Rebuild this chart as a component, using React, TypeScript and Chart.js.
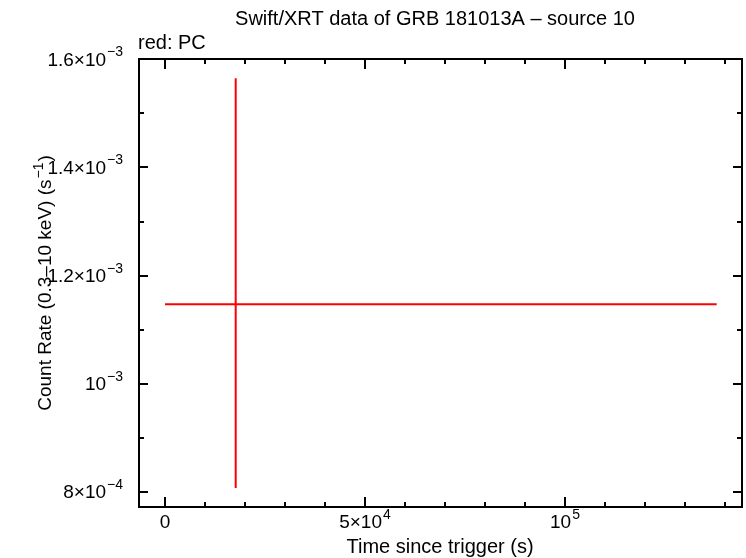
import React, { useEffect, useRef } from "react";
import { Chart, registerables } from "chart.js";

Chart.register(...registerables);

// ---- data ----
const timeValues = [17675];
const timeErrNeg = [17675];
const timeErrPos = [120250];
const rateValues = [1.147e-3];
const rateErrNeg = [3.396e-4];
const rateErrPos = [4.179e-4];

// ---- axes ----
const xMin = -6500;
const xMax = 144250;
const yMin = 7.7225e-4;
const yMax = 1.6005e-3;
const xMajorTicks = [0, 50000, 100000];
const xMajorBase = ["0", "5×10", "10"];
const xMajorSup = ["", "4", "5"];
const xMinorStep = 10000;
const yMajorTicks = [8e-4, 1e-3, 1.2e-3, 1.4e-3, 1.6e-3];
const yMajorBase = ["8×10", "10", "1.2×10", "1.4×10", "1.6×10"];
const yMajorSup = ["−4", "−3", "−3", "−3", "−3"];
const yMinorStep = 1e-4;

const titleText = "Swift/XRT data of GRB 181013A – source 10";
const xTitle = "Time since trigger (s)";
const yTitleBase = "Count Rate (0.3–10 keV) (s";
const yTitleSup = "−1";
const yTitleEnd = ")";
const legendText = "red: PC";

const FONT = "'Liberation Sans', Arial, Helvetica, sans-serif";

function drawSupText(
  ctx: CanvasRenderingContext2D,
  base: string,
  sup: string,
  x: number,
  y: number,
  align: "left" | "right" | "center",
  size: number
) {
  const supSize = Math.round(size * 0.72);
  ctx.font = `${size}px ${FONT}`;
  const wb = ctx.measureText(base).width;
  ctx.font = `${supSize}px ${FONT}`;
  const ws = sup ? ctx.measureText(sup).width + 1 : 0;
  const total = wb + ws;
  let start = x;
  if (align === "right") start = x - total;
  else if (align === "center") start = x - total / 2;
  ctx.textAlign = "left";
  ctx.textBaseline = "middle";
  ctx.font = `${size}px ${FONT}`;
  ctx.fillText(base, start, y);
  if (sup) {
    ctx.font = `${supSize}px ${FONT}`;
    ctx.fillText(sup, start + wb + 1, y - size * 0.42);
  }
}

const framePlugin = {
  id: "framePlugin",
  afterDraw(chart: any) {
    const { ctx, chartArea } = chart;
    const xs = chart.scales.x;
    const ys = chart.scales.y;
    const { left, right, top, bottom } = chartArea;
    ctx.save();
    ctx.strokeStyle = "#000";
    ctx.fillStyle = "#000";
    ctx.lineWidth = 2;
    ctx.strokeRect(left, top, right - left, bottom - top);

    ctx.beginPath();
    for (let v = Math.ceil(xMin / xMinorStep) * xMinorStep; v <= xMax; v += xMinorStep) {
      const px = Math.round(xs.getPixelForValue(v));
      const major = xMajorTicks.includes(v);
      const len = major ? 10 : 5;
      ctx.moveTo(px, bottom);
      ctx.lineTo(px, bottom - len);
      ctx.moveTo(px, top);
      ctx.lineTo(px, top + len);
    }
    for (let i = 0; ; i++) {
      const v = 8e-4 + i * yMinorStep;
      if (v > yMax + 1e-9) break;
      const py = Math.round(ys.getPixelForValue(v));
      const major = i % 2 === 0;
      const len = major ? 9 : 5;
      ctx.moveTo(left, py);
      ctx.lineTo(left + len, py);
      ctx.moveTo(right, py);
      ctx.lineTo(right - len, py);
    }
    ctx.stroke();

    xMajorTicks.forEach((v, i) => {
      const px = xs.getPixelForValue(v);
      drawSupText(ctx, xMajorBase[i], xMajorSup[i], px, bottom + 16, "center", 19);
    });
    yMajorTicks.forEach((v, i) => {
      const py = ys.getPixelForValue(v);
      drawSupText(ctx, yMajorBase[i], yMajorSup[i], left - 16, py + 1, "right", 19);
    });

    ctx.font = `20px ${FONT}`;
    ctx.textAlign = "center";
    ctx.textBaseline = "middle";
    ctx.fillText(titleText, 435, 19);

    ctx.textAlign = "left";
    ctx.fillText(legendText, left - 1, 43);

    ctx.textAlign = "center";
    ctx.fillText(xTitle, 440, 547);

    ctx.translate(46, 283);
    ctx.rotate(-Math.PI / 2);
    ctx.font = `19px ${FONT}`;
    const wb = ctx.measureText(yTitleBase).width;
    ctx.font = `14px ${FONT}`;
    const ws = ctx.measureText(yTitleSup).width;
    ctx.font = `19px ${FONT}`;
    const we = ctx.measureText(yTitleEnd).width;
    const total = wb + ws + we + 2;
    let sx = -total / 2;
    ctx.textAlign = "left";
    ctx.fillText(yTitleBase, sx, 0);
    sx += wb + 1;
    ctx.font = `14px ${FONT}`;
    ctx.fillText(yTitleSup, sx, -7);
    sx += ws + 1;
    ctx.font = `19px ${FONT}`;
    ctx.fillText(yTitleEnd, sx, 0);
    ctx.restore();
  },
};

export default function App() {
  const canvasRef = useRef<HTMLCanvasElement | null>(null);

  useEffect(() => {
    const canvas = canvasRef.current;
    if (!canvas) return;
    const datasets: any[] = [];
    timeValues.forEach((t, i) => {
      const r = rateValues[i];
      datasets.push({
        label: "PC x-err",
        data: [
          { x: t - timeErrNeg[i], y: r },
          { x: t + timeErrPos[i], y: r },
        ],
        showLine: true,
        borderColor: "#ff0000",
        borderWidth: 2,
        pointRadius: 0,
        fill: false,
      });
      datasets.push({
        label: "PC y-err",
        data: [
          { x: t, y: r - rateErrNeg[i] },
          { x: t, y: r + rateErrPos[i] },
        ],
        showLine: true,
        borderColor: "#ff0000",
        borderWidth: 2,
        pointRadius: 0,
        fill: false,
      });
    });

    const chart = new Chart(canvas, {
      type: "scatter",
      data: { datasets },
      options: {
        animation: false,
        responsive: false,
        devicePixelRatio: 1,
        layout: { padding: { left: 139, top: 59, right: 4, bottom: 51 } },
        plugins: {
          legend: { display: false },
          title: { display: false },
          tooltip: { enabled: false },
        },
        scales: {
          x: { type: "linear", min: xMin, max: xMax, display: false },
          y: { type: "linear", min: yMin, max: yMax, display: false },
        },
      },
      plugins: [framePlugin],
    });
    return () => chart.destroy();
  }, []);

  return (
    <div style={{ position: "fixed", left: 0, top: 0, width: 746, height: 558, background: "#fff" }}>
      <canvas ref={canvasRef} width={746} height={558} />
    </div>
  );
}
